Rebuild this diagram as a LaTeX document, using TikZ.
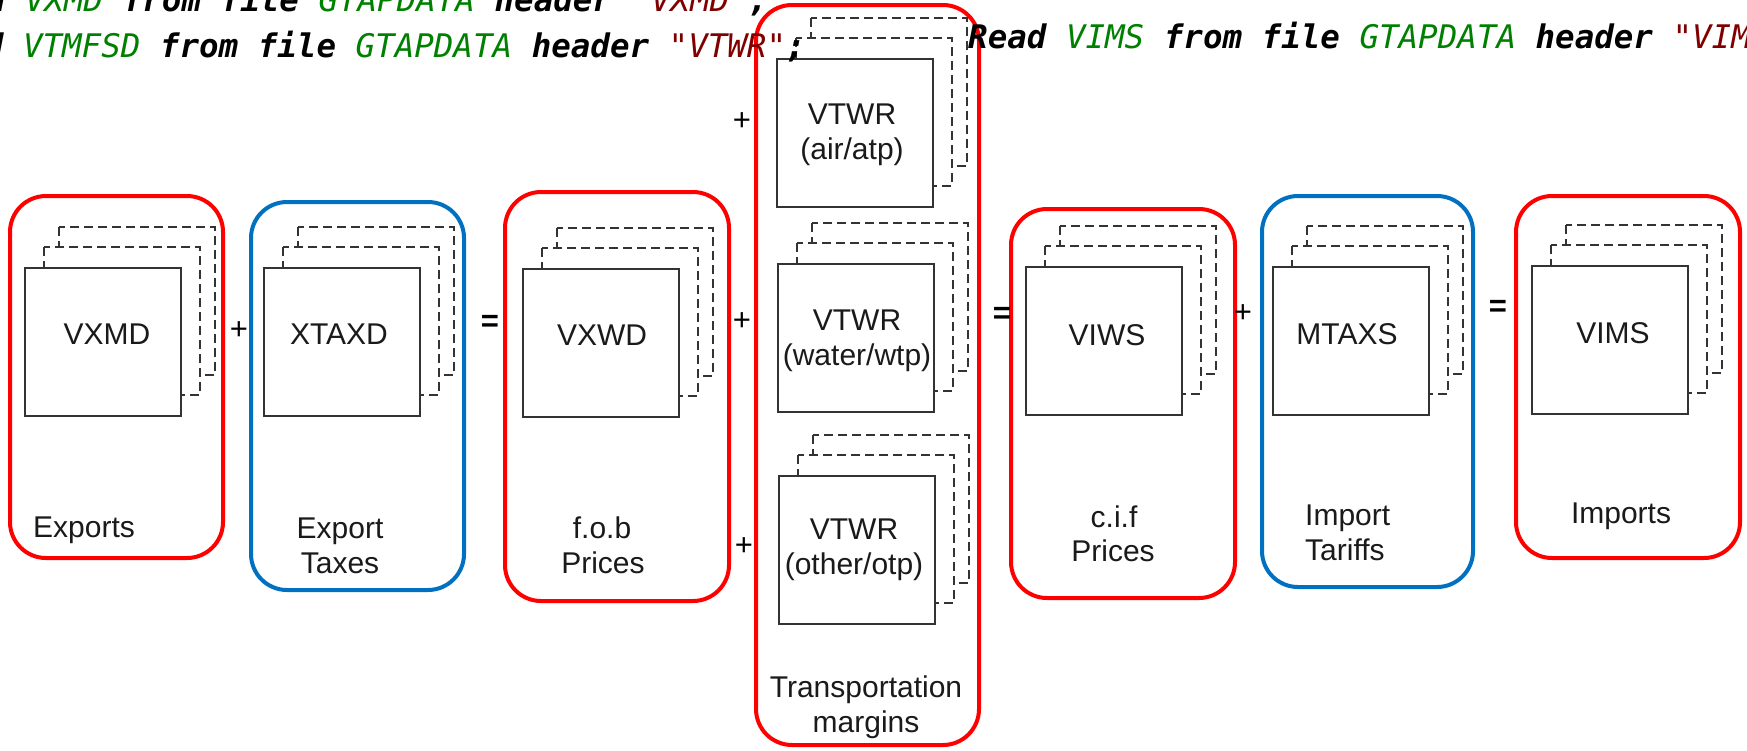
\documentclass[tikz,border=0pt]{standalone}
\usepackage{fontspec}
\setmainfont{Liberation Sans}
\newfontfamily\codefont{DejaVu Sans Mono}[
  BoldFont={DejaVu Sans Mono Bold},
  ItalicFont={DejaVu Sans Mono Oblique},
  BoldItalicFont={DejaVu Sans Mono Bold Oblique}]

\definecolor{boxred}{HTML}{FF0000}
\definecolor{boxblue}{HTML}{0070C0}
\definecolor{ink}{HTML}{1A1A1A}
\definecolor{sheet}{HTML}{333333}
\definecolor{idgreen}{HTML}{008000}
\definecolor{strred}{HTML}{800000}

% code colouring: keywords, identifiers, strings
\newcommand{\cdkw}[1]{{\bfseries\itshape\color{black}#1}}
\newcommand{\cdid}[1]{{\itshape\color{idgreen}#1}}
\newcommand{\cdstr}[1]{{\itshape\color{strred}#1}}

\tikzset{
  group/.style={line width=4pt, rounded corners=36pt, anchor=north west,
    inner sep=0pt, outer sep=0pt},
  redgroup/.style={group, draw=boxred},
  bluegroup/.style={group, draw=boxblue},
  sheetback/.style={draw=sheet, fill=white, line width=1.8pt,
    dash pattern=on 9pt off 5pt},
  sheetfront/.style={draw=sheet, fill=white, line width=2pt, inner sep=0pt,
    minimum width=156pt, minimum height=148pt, anchor=north west},
  label/.style={text=ink, inner sep=0pt, anchor=base,
    font=\fontsize{30}{35}\selectfont},
  labelL/.style={label, anchor=base west},
  op/.style={text=black, inner sep=0pt, font=\fontsize{31}{31}\selectfont},
  code/.style={anchor=base west, inner sep=0pt,
    font=\codefont\fontsize{32.5}{40}\selectfont},
}

% a pile of three sheets: two dashed ones behind a solid front sheet
\newcommand{\sheetstack}[3]{%
  \draw[sheetback] (#2+35,#3-40) rectangle ++(156,148);
  \draw[sheetback] (#2+20,#3-20) rectangle ++(156,148);
  \node[sheetfront] (#1) at (#2,#3) {};
}

\begin{document}
\begin{tikzpicture}[x=1pt,y=-1pt]
\useasboundingbox (0,0) rectangle (1747,750);
\clip (0,0) rectangle (1747,750);
\fill[white] (0,0) rectangle (1747,750);

% grouping frames
\node[redgroup,  minimum width=213pt, minimum height=362pt] (exports)   at (10,196)   {};
\node[bluegroup, minimum width=213pt, minimum height=388pt] (extax)     at (251,202)  {};
\node[redgroup,  minimum width=224pt, minimum height=409pt] (fob)       at (505,192)  {};
\node[redgroup,  minimum width=223pt, minimum height=740pt] (transport) at (756,5)    {};
\node[redgroup,  minimum width=224pt, minimum height=389pt] (cif)       at (1011,209) {};
\node[bluegroup, minimum width=211pt, minimum height=391pt] (imtar)     at (1262,196) {};
\node[redgroup,  minimum width=224pt, minimum height=362pt] (imports)   at (1516,196) {};

% sheet piles
\sheetstack{vxmd}{24}{267}
\sheetstack{xtaxd}{263}{267}
\sheetstack{vxwd}{522}{268}
\sheetstack{air}{776}{58}
\sheetstack{water}{777}{263}
\sheetstack{other}{778}{475}
\sheetstack{viws}{1025}{266}
\sheetstack{mtaxs}{1272}{266}
\sheetstack{vims}{1531}{265}

% sheet labels
\node[label] (vxmdT)  at (107,344)  {VXMD};
\node[label] (xtaxdT) at (339,344)  {XTAXD};
\node[label] (vxwdT)  at (602,345)  {VXWD};
\node[label] (airT)   at (852,124)  {VTWR};
\node[label] (airS)   at (852,159)  {(air/atp)};
\node[label] (waterT) at (857,330)  {VTWR};
\node[label] (waterS) at (857,365)  {(water/wtp)};
\node[label] (otherT) at (854,539)  {VTWR};
\node[label] (otherS) at (854,574)  {(other/otp)};
\node[label] (viwsT)  at (1107,345) {VIWS};
\node[label] (mtaxsT) at (1347,344) {MTAXS};
\node[label] (vimsT)  at (1613,343) {VIMS};

% frame captions
\node[labelL] (capExp)  at (33,537)   {Exports};
\node[label]  (capTax1) at (340,538)  {Export};
\node[label]  (capTax2) at (340,573)  {Taxes};
\node[label]  (capFob1) at (602,538)  {f.o.b};
\node[label]  (capFob2) at (603,573)  {Prices};
\node[label]  (capTr1)  at (866,697)  {Transportation};
\node[label]  (capTr2)  at (866,732)  {margins};
\node[label]  (capCif1) at (1114,527) {c.i.f};
\node[label]  (capCif2) at (1113,561) {Prices};
\node[labelL] (capImt1) at (1305,525) {Import};
\node[labelL] (capImt2) at (1305,560) {Tariffs};
\node[label]  (capImp)  at (1621,523) {Imports};

% arithmetic signs
\node[op] (plusA) at (239,331)  {+};
\node[op] (eqA)   at (490,323)  {\bfseries =};
\node[op] (plusB) at (742,122)  {+};
\node[op] (plusC) at (742,322)  {+};
\node[op] (plusD) at (744,547)  {+};
\node[op] (eqB)   at (1002,315) {\bfseries =};
\node[op] (plusE) at (1243,314) {+};
\node[op] (eqC)   at (1498,308) {\bfseries =};

% statements of the reading program
\node[code] (codeA) at (-73,11)
  {\cdkw{Read} \cdid{VXMD} \cdkw{from} \cdkw{file} \cdid{GTAPDATA} \cdkw{header} \cdstr{"VXMD"}\cdkw{;}};
\node[code] (codeB) at (-75,57)
  {\cdkw{Read} \cdid{VTMFSD} \cdkw{from} \cdkw{file} \cdid{GTAPDATA} \cdkw{header} \cdstr{"VTWR"}\cdkw{;}};
\node[code] (codeC) at (968,-1)
  {\cdkw{Read} \cdid{VIWS} \cdkw{from} \cdkw{file} \cdid{GTAPDATA} \cdkw{header} \cdstr{"VIWS"}\cdkw{;}};
\node[code] (codeD) at (968,48)
  {\cdkw{Read} \cdid{VIMS} \cdkw{from} \cdkw{file} \cdid{GTAPDATA} \cdkw{header} \cdstr{"VIMS"}\cdkw{;}};
\end{tikzpicture}
\end{document}
